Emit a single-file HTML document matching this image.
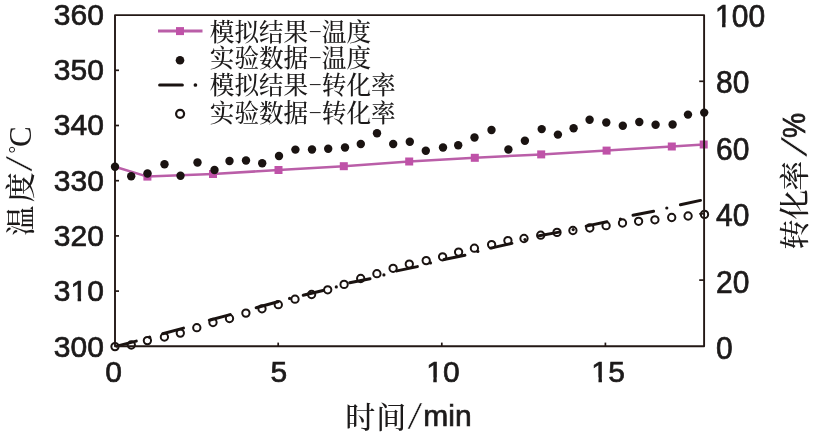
<!DOCTYPE html>
<html lang="zh-CN"><head><meta charset="utf-8"><title>温度与转化率</title>
<style>
html,body{margin:0;padding:0;background:#fff;}
body{width:820px;height:436px;overflow:hidden;}
svg{display:block;}
.n{font-family:"Liberation Sans",sans-serif;font-size:30px;fill:#1c1a1a;stroke:#1c1a1a;stroke-width:0.7px;}
.c{font-family:"Liberation Serif","Noto Serif CJK SC",serif;fill:#1c1a1a;}
</style></head><body>
<svg width="820" height="436" viewBox="0 0 820 436">
<rect width="820" height="436" fill="#ffffff"/>
<g transform="translate(104.0,356.6) scale(1,1.000)">
<text class="n" x="-50.35" y="0" letter-spacing="0.15">300</text>
</g>
<g transform="translate(104.0,301.4) scale(1,1.000)">
<text class="n" x="-50.35" y="0" letter-spacing="0.15">310</text>
<rect x="-33.23" y="-4.2" width="6.86" height="6.4" fill="#fff"/>
<rect x="-22.92" y="-4.2" width="6.62" height="6.4" fill="#fff"/>
</g>
<g transform="translate(104.0,245.7) scale(1,1.000)">
<text class="n" x="-50.35" y="0" letter-spacing="0.15">320</text>
</g>
<g transform="translate(104.0,190.8) scale(1,1.000)">
<text class="n" x="-50.35" y="0" letter-spacing="0.15">330</text>
</g>
<g transform="translate(104.0,135.2) scale(1,1.000)">
<text class="n" x="-50.35" y="0" letter-spacing="0.15">340</text>
</g>
<g transform="translate(104.0,79.6) scale(1,1.000)">
<text class="n" x="-50.35" y="0" letter-spacing="0.15">350</text>
</g>
<g transform="translate(104.0,24.5) scale(1,1.000)">
<text class="n" x="-50.35" y="0" letter-spacing="0.15">360</text>
</g>
<g transform="translate(716.0,359.1) scale(1,1.035)">
<text class="n" x="0.00" y="0" letter-spacing="0.15">0</text>
</g>
<g transform="translate(716.0,293.0) scale(1,1.035)">
<text class="n" x="0.00" y="0" letter-spacing="0.15">20</text>
</g>
<g transform="translate(716.0,226.2) scale(1,1.035)">
<text class="n" x="0.00" y="0" letter-spacing="0.15">40</text>
</g>
<g transform="translate(716.0,160.0) scale(1,1.035)">
<text class="n" x="0.00" y="0" letter-spacing="0.15">60</text>
</g>
<g transform="translate(716.0,93.3) scale(1,1.035)">
<text class="n" x="0.00" y="0" letter-spacing="0.15">80</text>
</g>
<g transform="translate(714.9,27.1) scale(1,1.035)">
<text class="n" x="0.00" y="0" letter-spacing="0.15">100</text>
<rect x="0.29" y="-4.2" width="6.86" height="6.4" fill="#fff"/>
<rect x="10.60" y="-4.2" width="6.62" height="6.4" fill="#fff"/>
</g>
<g transform="translate(113.7,381.5) scale(1,1.000)">
<text class="n" x="-8.34" y="0" letter-spacing="0.15">0</text>
</g>
<g transform="translate(278.9,381.5) scale(1,1.000)">
<text class="n" x="-8.34" y="0" letter-spacing="0.15">5</text>
</g>
<g transform="translate(442.9,381.5) scale(1,1.000)">
<text class="n" x="-16.76" y="0" letter-spacing="0.15">10</text>
<rect x="-16.47" y="-4.2" width="6.86" height="6.4" fill="#fff"/>
<rect x="-6.16" y="-4.2" width="6.62" height="6.4" fill="#fff"/>
</g>
<g transform="translate(608.1,381.5) scale(1,1.000)">
<text class="n" x="-16.76" y="0" letter-spacing="0.15">15</text>
<rect x="-16.47" y="-4.2" width="6.86" height="6.4" fill="#fff"/>
<rect x="-6.16" y="-4.2" width="6.62" height="6.4" fill="#fff"/>
</g>
<g font-weight="500">
<text class="c" font-size="30" y="428.2"><tspan x="345.2">时</tspan><tspan x="376.2">间</tspan></text>
<text class="c" font-size="39.6" transform="translate(407.2,428.9) scale(1.38,1)" stroke="#fff" stroke-width="0.6" vector-effect="non-scaling-stroke" >/</text>
<text class="n" x="423.3" y="425.6">min</text>
<g transform="translate(30.6,235.8) rotate(-90)">
<text class="c" font-size="30"><tspan x="0">温</tspan><tspan x="33.6">度</tspan></text>
<text class="c" font-size="40" transform="translate(64.0,1.6) scale(1.45,1)" stroke="#fff" stroke-width="0.6" vector-effect="non-scaling-stroke" >/</text>
<text class="c" y="-0.1"><tspan x="82.3" dy="-8.5" font-size="19">°</tspan><tspan x="88.8" dy="8.5" font-size="31">C</tspan></text>
</g>
<g transform="translate(805.1,249.4) rotate(-90)">
<text class="c" font-size="30"><tspan x="0">转</tspan><tspan x="29.9">化</tspan><tspan x="58.7">率</tspan></text>
<text class="c" font-size="39.6" transform="translate(92.1,2.0) scale(1.90,1)" stroke="#fff" stroke-width="0.6" vector-effect="non-scaling-stroke" >/</text>
<text class="n" transform="translate(111.4,-0.2) scale(0.94,1.05)">%</text>
</g>
</g>
<g stroke="#1a1311" stroke-width="3.0" fill="none" stroke-linecap="round">
<line x1="116.7" y1="346.1" x2="136.3" y2="341.1"/>
<line x1="162.7" y1="333.7" x2="183.5" y2="328.1"/>
<line x1="209.3" y1="320.2" x2="230.2" y2="314.6"/>
<line x1="256.2" y1="307.8" x2="277.9" y2="301.8"/>
<line x1="303.2" y1="295.2" x2="323.0" y2="290.5"/>
<line x1="349.7" y1="282.7" x2="370.0" y2="278.7"/>
<line x1="396.9" y1="270.9" x2="417.4" y2="266.6"/>
<line x1="444.0" y1="259.5" x2="464.9" y2="255.3"/>
<line x1="490.7" y1="248.1" x2="511.9" y2="243.4"/>
<line x1="539.2" y1="235.8" x2="559.1" y2="232.1"/>
<line x1="586.2" y1="226.1" x2="606.9" y2="221.8"/>
<line x1="633.0" y1="215.3" x2="653.6" y2="211.2"/>
<line x1="680.4" y1="204.7" x2="700.5" y2="200.4"/>
</g>
<g fill="#1a1311">
<circle cx="149.6" cy="337.2" r="1.6"/>
<circle cx="289.6" cy="298.4" r="1.6"/>
<circle cx="336.3" cy="286.9" r="1.6"/>
<circle cx="383.9" cy="274.9" r="1.6"/>
<circle cx="430.5" cy="262.9" r="1.6"/>
<circle cx="477.8" cy="251.4" r="1.6"/>
<circle cx="525.0" cy="239.5" r="1.6"/>
<circle cx="573.2" cy="229.6" r="1.6"/>
<circle cx="620.4" cy="219.0" r="1.6"/>
<circle cx="666.8" cy="208.0" r="1.6"/>
</g>
<g stroke="#1a1311" stroke-width="2.0" fill="none">
<circle cx="115.0" cy="346.6" r="3.65"/>
<circle cx="131.3" cy="345.0" r="3.65"/>
<circle cx="147.4" cy="340.6" r="3.65"/>
<circle cx="164.4" cy="337.0" r="3.65"/>
<circle cx="180.3" cy="333.1" r="3.65"/>
<circle cx="196.8" cy="327.7" r="3.65"/>
<circle cx="213.0" cy="322.5" r="3.65"/>
<circle cx="229.5" cy="318.5" r="3.65"/>
<circle cx="245.9" cy="313.1" r="3.65"/>
<circle cx="262.0" cy="308.8" r="3.65"/>
<circle cx="278.3" cy="304.7" r="3.65"/>
<circle cx="295.0" cy="299.2" r="3.65"/>
<circle cx="311.6" cy="294.5" r="3.65"/>
<circle cx="327.7" cy="289.8" r="3.65"/>
<circle cx="344.1" cy="284.4" r="3.65"/>
<circle cx="360.7" cy="278.5" r="3.65"/>
<circle cx="376.9" cy="273.7" r="3.65"/>
<circle cx="393.1" cy="268.3" r="3.65"/>
<circle cx="409.3" cy="264.1" r="3.65"/>
<circle cx="426.2" cy="260.6" r="3.65"/>
<circle cx="442.6" cy="256.8" r="3.65"/>
<circle cx="458.6" cy="252.1" r="3.65"/>
<circle cx="474.4" cy="248.2" r="3.65"/>
<circle cx="491.6" cy="244.6" r="3.65"/>
<circle cx="507.9" cy="240.6" r="3.65"/>
<circle cx="524.0" cy="238.5" r="3.65"/>
<circle cx="540.7" cy="235.2" r="3.65"/>
<circle cx="557.0" cy="232.4" r="3.65"/>
<circle cx="572.9" cy="230.5" r="3.65"/>
<circle cx="589.8" cy="228.0" r="3.65"/>
<circle cx="606.1" cy="225.7" r="3.65"/>
<circle cx="622.5" cy="223.0" r="3.65"/>
<circle cx="638.6" cy="221.3" r="3.65"/>
<circle cx="654.9" cy="219.8" r="3.65"/>
<circle cx="671.7" cy="217.5" r="3.65"/>
<circle cx="688.1" cy="216.0" r="3.65"/>
<circle cx="704.5" cy="214.4" r="3.65"/>
</g>
<polyline fill="none" stroke="#ba5ea8" stroke-width="2.5" stroke-linejoin="round" points="115.0,166.7 147.4,176.6 213.0,174.0 278.5,170.0 343.8,166.2 409.2,161.5 474.8,157.8 541.2,154.4 606.6,150.6 671.8,146.5 703.7,144.5"/>
<g fill="#bf52a8">
<rect x="143.4" y="172.6" width="8" height="8"/>
<rect x="209.0" y="170.0" width="8" height="8"/>
<rect x="274.5" y="166.0" width="8" height="8"/>
<rect x="339.8" y="162.2" width="8" height="8"/>
<rect x="405.2" y="157.5" width="8" height="8"/>
<rect x="470.8" y="153.8" width="8" height="8"/>
<rect x="537.2" y="150.4" width="8" height="8"/>
<rect x="602.6" y="146.6" width="8" height="8"/>
<rect x="667.8" y="142.5" width="8" height="8"/>
<rect x="699.7" y="140.5" width="8" height="8"/>
</g>
<g stroke="#231815" stroke-width="1.9" fill="none" stroke-linecap="butt" stroke-linejoin="round">
<rect x="115.0" y="15.1" width="589.1" height="331.2"/>
<line x1="115" y1="291.1" x2="119" y2="291.1" stroke-width="1.7"/>
<line x1="115" y1="235.9" x2="119" y2="235.9" stroke-width="1.7"/>
<line x1="115" y1="180.7" x2="119" y2="180.7" stroke-width="1.7"/>
<line x1="115" y1="125.5" x2="119" y2="125.5" stroke-width="1.7"/>
<line x1="115" y1="70.3" x2="119" y2="70.3" stroke-width="1.7"/>
<line x1="699.2" y1="280.1" x2="704" y2="280.1" stroke-width="1.7"/>
<line x1="699.2" y1="213.8" x2="704" y2="213.8" stroke-width="1.7"/>
<line x1="699.2" y1="81.3" x2="704" y2="81.3" stroke-width="1.7"/>
<line x1="278.2" y1="342.6" x2="278.2" y2="346.3" stroke-width="1.7"/>
<line x1="441.8" y1="342.6" x2="441.8" y2="346.3" stroke-width="1.7"/>
<line x1="605.4" y1="342.6" x2="605.4" y2="346.3" stroke-width="1.7"/>
</g>
<g fill="#1a1311">
<circle cx="115.0" cy="166.8" r="4.2"/>
<circle cx="131.2" cy="176.2" r="4.2"/>
<circle cx="147.5" cy="173.5" r="4.2"/>
<circle cx="164.5" cy="164.2" r="4.2"/>
<circle cx="180.5" cy="175.8" r="4.2"/>
<circle cx="197.5" cy="162.5" r="4.2"/>
<circle cx="214.5" cy="170.0" r="4.2"/>
<circle cx="229.5" cy="161.0" r="4.2"/>
<circle cx="246.0" cy="160.5" r="4.2"/>
<circle cx="262.2" cy="163.2" r="4.2"/>
<circle cx="279.0" cy="156.0" r="4.2"/>
<circle cx="295.4" cy="149.6" r="4.2"/>
<circle cx="312.0" cy="149.5" r="4.2"/>
<circle cx="328.2" cy="148.8" r="4.2"/>
<circle cx="345.0" cy="147.5" r="4.2"/>
<circle cx="360.8" cy="144.0" r="4.2"/>
<circle cx="377.0" cy="133.2" r="4.2"/>
<circle cx="393.2" cy="144.0" r="4.2"/>
<circle cx="409.8" cy="141.8" r="4.2"/>
<circle cx="425.8" cy="150.8" r="4.2"/>
<circle cx="443.0" cy="147.5" r="4.2"/>
<circle cx="458.2" cy="145.2" r="4.2"/>
<circle cx="474.5" cy="137.5" r="4.2"/>
<circle cx="491.5" cy="130.0" r="4.2"/>
<circle cx="508.4" cy="149.5" r="4.2"/>
<circle cx="524.9" cy="140.7" r="4.2"/>
<circle cx="541.7" cy="129.1" r="4.2"/>
<circle cx="557.9" cy="134.6" r="4.2"/>
<circle cx="573.6" cy="128.3" r="4.2"/>
<circle cx="589.6" cy="119.8" r="4.2"/>
<circle cx="606.3" cy="122.5" r="4.2"/>
<circle cx="622.8" cy="125.8" r="4.2"/>
<circle cx="639.3" cy="122.0" r="4.2"/>
<circle cx="655.6" cy="124.7" r="4.2"/>
<circle cx="672.6" cy="124.5" r="4.2"/>
<circle cx="688.0" cy="114.6" r="4.2"/>
<circle cx="704.2" cy="112.6" r="4.2"/>
</g>
<line x1="158" y1="31.1" x2="202.5" y2="31.1" stroke="#ba5ea8" stroke-width="3"/>
<rect x="176" y="27.1" width="8" height="8" fill="#bf52a8"/>
<circle cx="180" cy="60.3" r="4.3" fill="#1a1311"/>
<line x1="159.6" y1="85" x2="182.4" y2="85" stroke="#1a1311" stroke-width="3" stroke-linecap="round"/>
<circle cx="195.4" cy="85" r="1.85" fill="#1a1311"/>
<circle cx="180.1" cy="113.8" r="4.0" fill="none" stroke="#1a1311" stroke-width="2.2"/>
<text class="c" font-size="24.6" font-weight="500" y="40.7"><tspan x="209.8">模拟结果</tspan><tspan x="310" dy="-3.6" font-size="21">–</tspan><tspan x="321.8" dy="3.6">温度</tspan></text>
<text class="c" font-size="24.6" font-weight="500" y="66.7"><tspan x="209.8">实验数据</tspan><tspan x="310" dy="-3.6" font-size="21">–</tspan><tspan x="321.8" dy="3.6">温度</tspan></text>
<text class="c" font-size="24.6" font-weight="500" y="94.0"><tspan x="209.8">模拟结果</tspan><tspan x="310" dy="-3.6" font-size="21">–</tspan><tspan x="321.8" dy="3.6">转化率</tspan></text>
<text class="c" font-size="24.6" font-weight="500" y="121.5"><tspan x="209.8">实验数据</tspan><tspan x="310" dy="-3.6" font-size="21">–</tspan><tspan x="321.8" dy="3.6">转化率</tspan></text>
</svg>
</body></html>
